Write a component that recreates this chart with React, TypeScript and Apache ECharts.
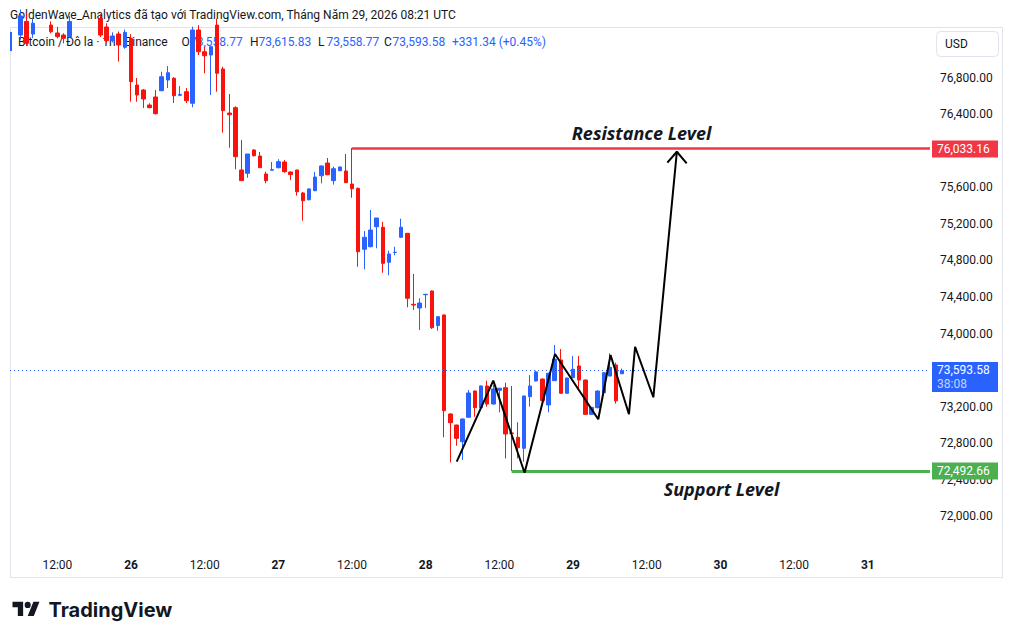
import React, { useEffect, useRef } from "react";
import * as echarts from "echarts";

// ---------- DATA ----------
// Hours are counted from 26 00:00 (UTC). First candle: 25 06:00.
const FIRST_HOUR = -18;
const opens = [
  77271, 77420, 77282, 77420, 77520, 77380, 77293, 77271, 77253, 77420, 77500, 77470, 77520, 77450, 77359, 77209, 77282, 77136,
  77235, 76723, 76668, 76504, 76592, 76661, 76778, 76797, 76610, 76650, 76523, 77326, 77088, 77052, 77380, 76899, 76416, 76475,
  75792, 75756, 76011, 75945, 75748, 75790, 75817, 75879, 75770, 75792, 75540, 75466, 75565, 75729, 75868, 75675, 75784, 75781,
  75638, 75591, 74923, 74951, 75170, 75164, 74780, 74888, 75054, 75098, 74320, 74280, 74425, 74466, 74087, 74203, 73118, 72997,
  72814, 73082, 73370, 73187, 73425, 73227, 73378, 73406, 72910, 72862, 72742, 73308, 73480, 73501, 73217, 73483, 73710, 73345,
  73516, 73644, 73490, 73114, 73187, 73351, 73534, 73655, 73558.77,
];
const closes = [
  77480, 77180, 77400, 77520, 77460, 77307, 77253, 77235, 77420, 77500, 77470, 77520, 77480, 77271, 77209, 77260, 77162, 77300,
  76760, 76614, 76570, 76475, 76409, 76814, 76858, 76606, 76620, 76551, 77326, 77088, 77044, 77143, 76852, 76442, 76398, 75938,
  75675, 75967, 75948, 75817, 75675, 75795, 75883, 75773, 75741, 75554, 75455, 75584, 75715, 75836, 75740, 75806, 75825, 75653,
  75587, 74896, 75054, 75134, 75266, 74769, 74871, 74890, 75164, 74386, 74312, 74334, 74430, 74064, 74184, 73154, 73022, 72851,
  73063, 73348, 73187, 73425, 73227, 73392, 73400, 72899, 72906, 72748, 73315, 73425, 73579, 73264, 73564, 73720, 73345, 73512,
  73608, 73490, 73114, 73191, 73370, 73570, 73629, 73262, 73593.58,
];
const lows = [
  77220, 77150, 77238, 77380, 77420, 77290, 77235, 77180, 77240, 77380, 77400, 77430, 77440, 77250, 77187, 77190, 76979, 77120,
  76540, 76540, 76471, 76468, 76400, 76655, 76690, 76526, 76600, 76526, 76479, 77052, 76852, 76614, 76650, 76201, 76036, 75799,
  75675, 75707, 75940, 75817, 75646, 75785, 75810, 75762, 75682, 75510, 75236, 75460, 75560, 75646, 75735, 75631, 75780, 75650,
  75488, 74732, 74704, 74945, 74934, 74666, 74638, 74857, 75050, 74287, 74257, 74038, 74279, 74050, 74031, 72862, 72588, 72770,
  72614, 73080, 73088, 73180, 73198, 73220, 73136, 72632, 72492.66, 72632, 72595, 73198, 73475, 73260, 73136, 73480, 73340, 73340,
  73510, 73381, 73110, 73110, 73180, 73345, 73530, 73232, 73558.77,
];
const highs = [
  77550, 77500, 77450, 77560, 77580, 77420, 77359, 77290, 77480, 77560, 77600, 77580, 77560, 77500, 77400, 77300, 77310, 77330,
  77280, 76800, 76680, 76523, 76668, 76869, 76931, 76810, 76712, 76690, 77362, 77380, 77143, 77150, 77450, 76924, 76625, 76490,
  76121, 75967, 76020, 75989, 75773, 75879, 75910, 75901, 75775, 75795, 75551, 75590, 75770, 75840, 75923, 75828, 75830, 75967,
  76033.16, 75600, 75123, 75353, 75266, 75222, 74907, 74951, 75258, 75100, 74652, 74386, 74433, 74470, 74190, 74210, 73125, 73000,
  73070, 73381, 73375, 73430, 73483, 73436, 73405, 73461, 73425, 73027, 73320, 73545, 73592, 73505, 73570, 73874, 73830, 73515,
  73753, 73753, 73495, 73195, 73375, 73575, 73783, 73680, 73615.83,
];

const xTickHours = [-12, 0, 12, 24, 36, 48, 60, 72, 84, 96, 108, 120];
const xTickLabels = ["12:00", "26", "12:00", "27", "12:00", "28", "12:00", "29", "12:00", "30", "12:00", "31"];
// 73,600 and 76,000 sit under the price tags in the reference, so they are not shown
const yTickValues = [72000, 72400, 72800, 73200, 74000, 74400, 74800, 75200, 75600, 76400, 76800];

const resistancePrice = 76033.16;
const resistanceStartHour = 36;
const supportPrice = 72492.66;
const supportStartHour = 62;
const lastPrice = 73593.58;
const countdown = "38:08";

// hand-drawn projection path
const pathHours = [53.05, 59.0, 64.1, 69.05, 76.1, 78.1, 81.1, 82.1, 85.07, 88.9];
const pathPrices = [72595, 73483, 72474, 73775, 73060, 73764, 73115, 73855, 73301, 75992];
const arrowHours = [87.35, 88.9, 90.5];
const arrowPrices = [75872, 75992, 75865];

const resistanceText = "Resistance Level";
const resistanceTextAt = [83.14, 76197];
const supportText = "Support Level";
const supportTextAt = [96.17, 72300];

const titleText = "GoldenWave_Analytics đã tạo với TradingView.com, Tháng Năm 29, 2026 08:21 UTC";
const symbolText = "Bitcoin / Đô la · 1h · Binance";
const ohlcKeys = ["O", "H", "L", "C"];
const changeText = "+331.34 (+0.45%)";

// ---------- STYLE ----------
const FONT = 'Roboto, "Noto Sans", sans-serif';
const UP = "#2962ff";
const DOWN = "#f8130c";
const TEXT = "#131722";
const H_MIN = -19.71;
const H_MAX = 130.13;
const P_MIN = 71627.4;
const P_MAX = 77358.9;

const fmt = (v: number) =>
  v.toLocaleString("en-US", { minimumFractionDigits: 2, maximumFractionDigits: 2 });

const LOGO_D =
  "M14 22H7V11H0V4h14v18zM28 22h-8l7.5-18h8L28 22zM24 8a4 4 0 1 1-8 0a4 4 0 1 1 8 0z";

export default function App() {
  const ref = useRef<HTMLDivElement>(null);

  useEffect(() => {
    if (!ref.current) return;
    try {
      echarts.graphic.registerShape("tvlogo", echarts.graphic.extendPath(LOGO_D, {}));
    } catch (e) {}
    const chart = echarts.init(ref.current, null, { renderer: "svg" });

    const candleData = opens.map((o, i) => [FIRST_HOUR + i, o, closes[i], lows[i], highs[i]]);
    const last = opens.length - 1;
    const ohlcValues = [opens[last], highs[last], lows[last], closes[last]];
    const ohlcX = [181.5, 250, 318, 384];

    const headerGraphics: any[] = [];
    ohlcKeys.forEach((k, i) => {
      headerGraphics.push({
        type: "text",
        x: ohlcX[i],
        y: 42,
        z: -5,
        style: { text: k, fill: TEXT, fontSize: 12, fontFamily: FONT, verticalAlign: "middle" },
      });
      headerGraphics.push({
        type: "text",
        x: ohlcX[i] + 8.5,
        y: 42,
        z: -5,
        style: { text: fmt(ohlcValues[i]), fill: UP, fontSize: 12, fontFamily: FONT, verticalAlign: "middle" },
      });
    });

    const option: any = {
      animation: false,
      backgroundColor: "#ffffff",
      grid: { left: 10, right: 83, top: 27, bottom: 89, containLabel: false, outerBoundsMode: "none" },
      xAxis: {
        type: "value",
        min: H_MIN,
        max: H_MAX,
        axisLine: { show: false },
        axisTick: { show: false },
        splitLine: { show: false },
        axisLabel: {
          customValues: xTickHours,
          margin: 9,
          color: TEXT,
          fontSize: 12,
          fontFamily: FONT,
          formatter: (v: number) => {
            const i = xTickHours.indexOf(Math.round(v));
            const t = i >= 0 ? xTickLabels[i] : "";
            return t.indexOf(":") >= 0 ? `{t|${t}}` : `{d|${t}}`;
          },
          rich: {
            t: { fontSize: 12, color: TEXT, fontFamily: FONT },
            d: { fontSize: 12, color: TEXT, fontFamily: FONT, fontWeight: "bold" },
          },
        },
      },
      yAxis: {
        type: "value",
        position: "right",
        min: P_MIN,
        max: P_MAX,
        scale: true,
        axisLine: { show: false },
        axisTick: { show: false },
        splitLine: { show: false },
        axisLabel: {
          customValues: yTickValues,
          margin: 10,
          color: TEXT,
          fontSize: 12,
          fontFamily: FONT,
          formatter: (v: number) => fmt(v),
        },
      },
      graphic: [
        {
          type: "rect",
          z: -10,
          silent: true,
          shape: { x: 10.5, y: 27.5, width: 992, height: 550 },
          style: { fill: "none", stroke: "#e0e3eb", lineWidth: 1 },
        },
        {
          type: "text",
          x: 10,
          y: 15,
          style: { text: titleText, fill: TEXT, fontSize: 12, fontFamily: FONT, verticalAlign: "middle" },
        },
        { type: "rect", z: -5, shape: { x: 10, y: 32, width: 2, height: 19 }, style: { fill: UP } },
        {
          type: "text",
          x: 18,
          y: 42,
          z: -5,
          style: { text: symbolText, fill: TEXT, fontSize: 12, fontFamily: FONT, verticalAlign: "middle" },
        },
        ...headerGraphics,
        {
          type: "text",
          x: 452,
          y: 42,
          z: -5,
          style: { text: changeText, fill: UP, fontSize: 12, fontFamily: FONT, verticalAlign: "middle" },
        },
        {
          type: "rect",
          shape: { x: 936.5, y: 31.5, width: 62, height: 25, r: 4 },
          style: { fill: "#fff", stroke: "#e0e3eb", lineWidth: 1 },
        },
        {
          type: "text",
          x: 945,
          y: 44,
          style: { text: "USD", fill: TEXT, fontSize: 12, fontFamily: FONT, verticalAlign: "middle" },
        },
        {
          type: "tvlogo",
          x: 12.5,
          y: 598.5,
          scaleX: 0.76,
          scaleY: 0.8,
          style: { fill: TEXT },
        },
        {
          type: "text",
          x: 48.5,
          y: 609.5,
          style: {
            text: "TradingView",
            fill: TEXT,
            fontSize: 20,
            fontWeight: "bold",
            fontFamily: 'Inter, Roboto, sans-serif',
            verticalAlign: "middle",
          },
        },
      ],
      series: [
        {
          type: "line",
          name: "current",
          data: [[H_MAX, lastPrice]],
          symbol: "none",
          silent: true,
          z: 1,
          markLine: {
            silent: true,
            symbol: ["none", "none"],
            label: { show: false },
            lineStyle: { color: UP, width: 1, type: [1, 3] },
            data: [[{ coord: [H_MIN, lastPrice] }, { coord: [H_MAX, lastPrice] }]],
          },
        },
        {
          type: "candlestick",
          name: "BTCUSD",
          data: candleData,
          encode: { x: 0, y: [1, 2, 3, 4] },
          barWidth: 4,
          z: 2,
          itemStyle: {
            color: UP,
            color0: DOWN,
            borderColor: UP,
            borderColor0: DOWN,
            borderWidth: 1,
          },
        },
        {
          type: "line",
          name: "resistance",
          data: [[H_MAX, resistancePrice]],
          symbol: "none",
          silent: true,
          z: 3,
          markLine: {
            silent: true,
            symbol: ["none", "none"],
            label: { show: false },
            lineStyle: { color: "#f23645", width: 2.5, type: "solid" },
            data: [[{ coord: [resistanceStartHour, resistancePrice] }, { coord: [H_MAX, resistancePrice] }]],
          },
        },
        {
          type: "line",
          name: "support",
          data: [[H_MAX, supportPrice]],
          symbol: "none",
          silent: true,
          z: 3,
          markLine: {
            silent: true,
            symbol: ["none", "none"],
            label: { show: false },
            lineStyle: { color: "#4caf50", width: 3, type: "solid" },
            data: [[{ coord: [supportStartHour, supportPrice] }, { coord: [H_MAX, supportPrice] }]],
          },
        },
        {
          type: "line",
          name: "path",
          data: pathHours.map((h, i) => [h, pathPrices[i]]),
          symbol: "none",
          silent: true,
          z: 5,
          lineStyle: { color: "#000000", width: 2 },
          markPoint: {
            silent: true,
            symbol: "circle",
            symbolSize: 1,
            itemStyle: { color: "rgba(0,0,0,0)" },
            label: {
              show: true,
              position: "inside",
              color: TEXT,
              fontSize: 18,
              fontStyle: "italic",
              fontWeight: "bold",
              fontFamily: '"Noto Sans", "DejaVu Sans", sans-serif',
            },
            data: [
              { coord: resistanceTextAt, label: { formatter: resistanceText } },
              { coord: supportTextAt, label: { formatter: supportText } },
            ],
          },
        },
        {
          type: "line",
          name: "arrow",
          data: arrowHours.map((h, i) => [h, arrowPrices[i]]),
          symbol: "none",
          silent: true,
          z: 5,
          lineStyle: { color: "#000000", width: 2 },
        },
        {
          type: "line",
          name: "tags",
          data: [[H_MAX, lastPrice]],
          symbol: "none",
          silent: true,
          z: 6,
          markPoint: {
            silent: true,
            symbol: "rect",
            label: {
              show: true,
              position: "insideLeft",
              distance: 5,
              color: "#ffffff",
              fontSize: 12,
              fontFamily: FONT,
            },
            data: [
              {
                coord: [H_MAX, resistancePrice],
                symbolSize: [66, 17],
                symbolOffset: [35, 1],
                itemStyle: { color: "#f23645" },
                label: { formatter: fmt(resistancePrice) },
              },
              {
                coord: [H_MAX, supportPrice],
                symbolSize: [66, 17],
                symbolOffset: [35, 0],
                itemStyle: { color: "#4caf50" },
                label: { formatter: fmt(supportPrice) },
              },
              {
                coord: [H_MAX, lastPrice],
                symbolSize: [66, 30],
                symbolOffset: [35, 6.5],
                itemStyle: { color: UP },
                label: {
                  formatter: `{a|${fmt(lastPrice)}}\n{b|${countdown}}`,
                  rich: {
                    a: { color: "#ffffff", fontSize: 12, fontFamily: FONT, lineHeight: 14 },
                    b: { color: "#c6d3ff", fontSize: 12, fontFamily: FONT, lineHeight: 14 },
                  },
                },
              },
            ],
          },
        },
      ],
    };

    chart.setOption(option);
    return () => {
      chart.dispose();
    };
  }, []);

  return (
    <div
      ref={ref}
      style={{ position: "fixed", left: 0, top: 0, width: 1013, height: 639, background: "#ffffff" }}
    />
  );
}
